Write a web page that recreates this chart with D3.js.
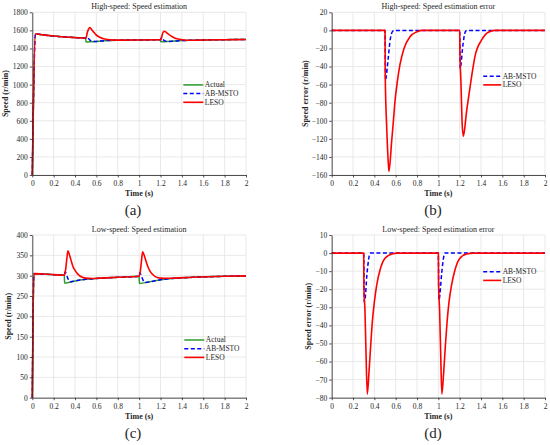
<!DOCTYPE html>
<html>
<head>
<meta charset="utf-8">
<script src="https://cdn.jsdelivr.net/npm/d3@7"></script>
<style>
  body { margin: 0; background: #fff; }
  svg text { font-family: "Liberation Serif", "Times New Roman", serif !important; fill: #262626; }
</style>
</head>
<body>
<svg id="fig" width="550" height="445"></svg>
<script>
// shared x ticks (time, s)
const timeTicks = [0, 0.2, 0.4, 0.6, 0.8, 1, 1.2, 1.4, 1.6, 1.8, 2];

// (a) high-speed: speed estimation  [t, r/min]
const hsActual = [[0,0],[0.03,1562],[0.1,1550],[0.2,1537],[0.3,1527],[0.4,1520],[0.5,1516],[0.502,1471],[0.55,1474],[0.6,1478],[0.65,1483],[0.7,1487],[0.8,1491],[1.0,1494],[1.2,1496],[1.202,1474],[1.25,1476],[1.3,1479],[1.35,1483],[1.4,1487],[1.5,1491],[1.6,1494],[1.8,1497],[2.0,1499]];
const hsMsto = [[0,0],[0.03,1562],[0.1,1550],[0.2,1537],[0.3,1527],[0.4,1520],[0.5,1516],[0.505,1526],[0.51,1524],[0.53,1504],[0.546,1486],[0.572,1476],[0.6,1478],[0.65,1483],[0.7,1487],[0.8,1491],[1.0,1494],[1.2,1496],[1.205,1516],[1.212,1512],[1.225,1497],[1.24,1484],[1.255,1477],[1.27,1477],[1.3,1479],[1.35,1483],[1.4,1487],[1.5,1491],[1.6,1494],[1.8,1497],[2.0,1499]];
const hsLeso = [[0,0],[0.03,1562],[0.1,1550],[0.2,1537],[0.3,1527],[0.4,1520],[0.5,1516],[0.505,1523],[0.515,1577],[0.528,1616],[0.537,1632],[0.562,1598],[0.578,1577],[0.593,1556],[0.615,1535],[0.64,1518],[0.678,1504],[0.734,1495],[0.828,1492],[1.0,1494],[1.2,1496],[1.203,1497],[1.212,1532],[1.222,1574],[1.234,1591],[1.248,1584],[1.262,1569],[1.28,1554],[1.312,1529],[1.343,1510],[1.406,1497],[1.468,1491],[1.52,1491],[1.6,1494],[1.8,1497],[2.0,1499]];

// (b) high-speed: speed estimation error
const hsErrMsto = [[0,0],[0.5,0],[0.505,-55],[0.51,-52],[0.53,-31],[0.546,-12.5],[0.572,-1],[0.59,0],[1.2,0],[1.205,-42],[1.212,-38],[1.225,-22],[1.24,-8],[1.255,-1],[1.27,0],[2,0]];
const hsErrLeso = [[0,0],[0.5,0],[0.502,-50],[0.515,-105],[0.528,-141],[0.537,-156],[0.562,-123],[0.578,-101],[0.593,-79],[0.615,-57],[0.64,-38],[0.678,-20],[0.734,-7],[0.8,-1.5],[0.85,0],[1.2,0],[1.202,-22],[1.212,-58],[1.222,-100],[1.234,-117],[1.248,-108],[1.262,-92],[1.28,-77],[1.312,-51],[1.343,-29],[1.406,-10.6],[1.468,-2],[1.53,0],[2,0]];

// (c) low-speed: speed estimation
const lsActual = [[0,0],[0.015,305],[0.1,304],[0.2,302.5],[0.3,301],[0.302,282],[0.35,284],[0.4,287],[0.5,291],[0.6,293],[0.8,296],[1.0,298.5],[1.002,281],[1.1,285],[1.2,290],[1.3,293],[1.5,296],[1.8,298.5],[2.0,299.5]];
const lsMsto = [[0,0],[0.015,305],[0.1,304],[0.2,302.5],[0.3,301],[0.305,309],[0.312,308],[0.33,295],[0.345,287],[0.36,285],[0.4,287],[0.5,291],[0.6,293],[0.8,296],[1.0,298.5],[1.005,307],[1.01,306],[1.03,293],[1.045,285],[1.062,283.5],[1.1,285],[1.2,290],[1.3,293],[1.5,296],[1.8,298.5],[2.0,299.5]];
const lsLeso = [[0,0],[0.015,305],[0.1,304],[0.2,302.5],[0.3,301],[0.312,315],[0.322,339],[0.334,361],[0.35,349],[0.366,335],[0.381,322],[0.4,313],[0.422,305],[0.453,298],[0.5,294],[0.563,293],[0.62,294],[0.8,296],[1.0,298.5],[1.012,313],[1.022,337],[1.033,359],[1.05,348],[1.066,334],[1.082,322],[1.1,312],[1.123,304],[1.155,297],[1.2,294],[1.265,293.5],[1.33,294],[1.5,296],[1.8,298.5],[2.0,299.5]];

// (d) low-speed: speed estimation error
const lsErrMsto = [[0,0],[0.3,0],[0.305,-27],[0.312,-26],[0.33,-12],[0.345,-4],[0.36,0],[1.0,0],[1.005,-26],[1.01,-25],[1.03,-12],[1.045,-4],[1.062,0],[2,0]];
const lsErrLeso = [[0,0],[0.3,0],[0.302,-19],[0.312,-32],[0.322,-56],[0.334,-78],[0.35,-65.6],[0.366,-50.8],[0.381,-38],[0.4,-27],[0.422,-17.7],[0.453,-9.4],[0.5,-2.9],[0.563,-0.5],[0.62,0],[1.0,0],[1.002,-17],[1.012,-32],[1.022,-56],[1.033,-78],[1.05,-66],[1.066,-51],[1.082,-38],[1.1,-27],[1.123,-18],[1.155,-9.5],[1.2,-3],[1.265,-0.5],[1.33,0],[2,0]];

// y ticks per panel
const hsSpeedTicks = d3.range(0, 1801, 200);
const hsErrTicks = d3.range(-160, 21, 20);
const lsSpeedTicks = d3.range(0, 401, 50);
const lsErrTicks = d3.range(-80, 11, 10);

const styles = {
  'Actual':   { color: '#2e9a2e', width: 1.5, dash: null },
  'AB-MSTO':  { color: '#0000ff', width: 1.5, dash: '4,2.5' },
  'LESO':     { color: '#ff0000', width: 1.6, dash: null }
};

const svg = d3.select('#fig');

function drawPanel(p) {
  const g = svg.append('g').attr('transform', `translate(${p.left}, ${p.top})`);
  const x = d3.scaleLinear().domain([0, 2]).range([0, p.width]);
  const y = d3.scaleLinear().domain([p.yTicks[0], p.yTicks[p.yTicks.length - 1]]).range([p.height, 0]);

  // grid
  g.append('g').selectAll('line').data(timeTicks).join('line')
    .attr('x1', d => x(d)).attr('x2', d => x(d)).attr('y1', 0).attr('y2', p.height)
    .attr('stroke', '#e3e3e3').attr('stroke-width', 0.8);
  g.append('g').selectAll('line').data(p.yTicks).join('line')
    .attr('x1', 0).attr('x2', p.width).attr('y1', d => y(d)).attr('y2', d => y(d))
    .attr('stroke', '#e3e3e3').attr('stroke-width', 0.8);

  // series
  const line = d3.line().x(d => x(d[0])).y(d => y(d[1])).curve(d3.curveMonotoneX);
  p.series.forEach(s => {
    const st = styles[s.name];
    g.append('path').datum(s.data)
      .attr('d', line).attr('fill', 'none')
      .attr('stroke', st.color).attr('stroke-width', st.width)
      .attr('stroke-dasharray', st.dash).attr('stroke-linejoin', 'round');
  });

  // axes
  const xAxis = g.append('g').attr('transform', `translate(0, ${p.height})`)
    .call(d3.axisBottom(x).tickValues(timeTicks).tickFormat(d3.format('~g')).tickSize(2.5).tickSizeOuter(0).tickPadding(3));
  const yAxis = g.append('g')
    .call(d3.axisLeft(y).tickValues(p.yTicks).tickFormat(d3.format('~g')).tickSize(2.5).tickSizeOuter(0).tickPadding(2));
  [xAxis, yAxis].forEach(a => {
    a.attr('font-family', null);
    a.selectAll('path, line').attr('stroke', '#262626').attr('stroke-width', 0.8);
    a.selectAll('text').attr('font-size', 7.5).attr('fill', '#262626');
  });

  // title and axis labels
  g.append('text').attr('x', p.width / 2).attr('y', -3.5).attr('text-anchor', 'middle')
    .attr('font-size', 8).text(p.title);
  g.append('text').attr('x', p.width / 2).attr('y', p.height + 21).attr('text-anchor', 'middle')
    .attr('font-size', 8).attr('font-weight', 'bold').text('Time (s)');
  g.append('text').attr('transform', `translate(${-p.yLabelOff}, ${p.height / 2}) rotate(-90)`)
    .attr('text-anchor', 'middle').attr('font-size', 8).attr('font-weight', 'bold').text(p.yLabel);

  // sub-figure tag
  g.append('text').attr('x', p.tagX - p.left).attr('y', p.height + 40).attr('text-anchor', 'middle')
    .attr('font-size', 15).attr('fill', '#111').text(p.tag);

  // legend
  const lg = g.append('g').attr('transform', `translate(${p.legend[0]}, ${p.legend[1]})`);
  p.series.forEach((s, i) => {
    const st = styles[s.name];
    lg.append('line').attr('x1', 0).attr('x2', p.legendLen).attr('y1', i * 8.7).attr('y2', i * 8.7)
      .attr('stroke', st.color).attr('stroke-width', st.width).attr('stroke-dasharray', st.dash);
    lg.append('text').attr('x', p.legendLen + 1.5).attr('y', i * 8.7).attr('dy', '0.33em')
      .attr('font-size', 7.5).text(s.name);
  });
}

const panels = [
  { left: 32.3, top: 12.3, width: 213.7, height: 162.7, yTicks: hsSpeedTicks,
    title: 'High-speed: Speed estimation', yLabel: 'Speed (r/min)', yLabelOff: 24, tag: '(a)', tagX: 133,
    legend: [151, 72.6], legendLen: 20,
    series: [{ name: 'Actual', data: hsActual }, { name: 'AB-MSTO', data: hsMsto }, { name: 'LESO', data: hsLeso }] },
  { left: 331.7, top: 12.3, width: 213.3, height: 162.7, yTicks: hsErrTicks,
    title: 'High-speed: Speed estimation error', yLabel: 'Speed error (r/min)', yLabelOff: 24, tag: '(b)', tagX: 433,
    legend: [151.5, 63.9], legendLen: 18,
    series: [{ name: 'AB-MSTO', data: hsErrMsto }, { name: 'LESO', data: hsErrLeso }] },
  { left: 32.3, top: 235, width: 213.7, height: 162.7, yTicks: lsSpeedTicks,
    title: 'Low-speed: Speed estimation', yLabel: 'Speed (r/min)', yLabelOff: 21, tag: '(c)', tagX: 133,
    legend: [152, 105], legendLen: 20,
    series: [{ name: 'Actual', data: lsActual }, { name: 'AB-MSTO', data: lsMsto }, { name: 'LESO', data: lsLeso }] },
  { left: 331.7, top: 235, width: 213.3, height: 162.7, yTicks: lsErrTicks,
    title: 'Low-speed: Speed estimation error', yLabel: 'Speed error (r/min)', yLabelOff: 21, tag: '(d)', tagX: 433,
    legend: [151.5, 36.7], legendLen: 18,
    series: [{ name: 'AB-MSTO', data: lsErrMsto }, { name: 'LESO', data: lsErrLeso }] }
];

panels.forEach(drawPanel);
</script>
</body>
</html>
